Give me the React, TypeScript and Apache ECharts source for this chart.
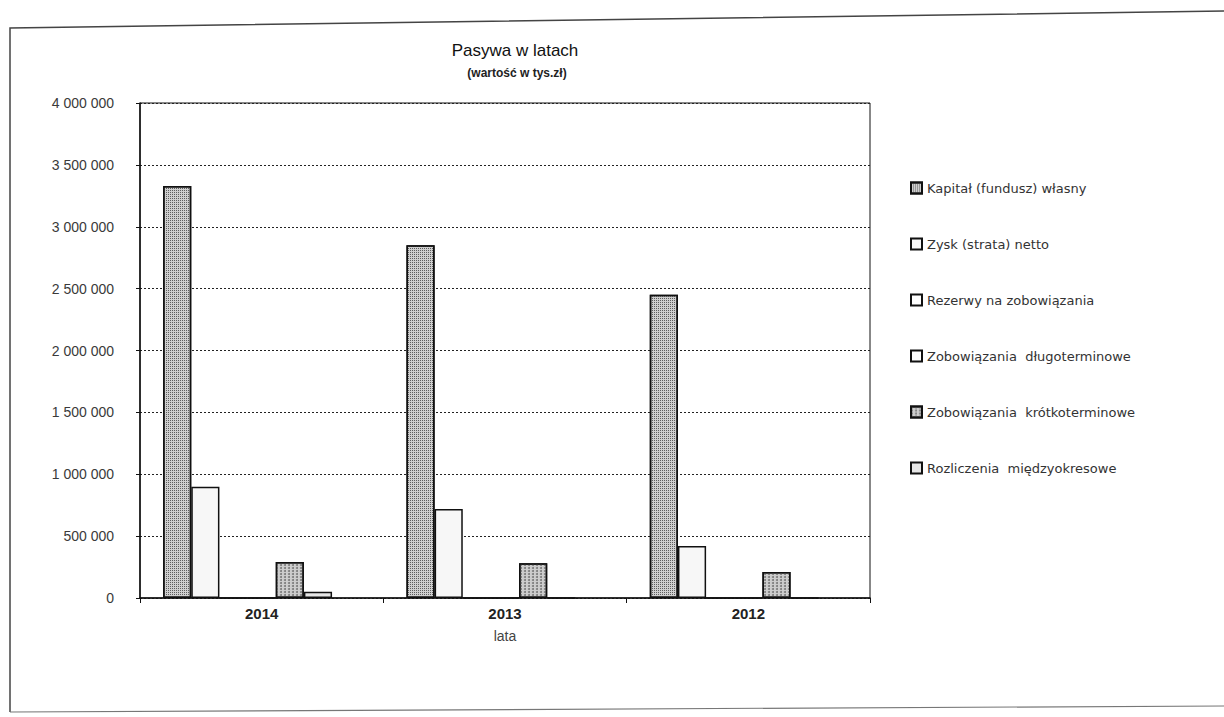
import React, { useEffect, useRef } from "react";
import * as echarts from "echarts";

const categories = ["2014", "2013", "2012"];
const seriesNames = [
  "Kapitał (fundusz) własny",
  "Zysk (strata) netto",
  "Rezerwy na zobowiązania",
  "Zobowiązania  długoterminowe",
  "Zobowiązania  krótkoterminowe",
  "Rozliczenia  międzyokresowe",
];
const kapital = [3330000, 2850000, 2450000];
const zysk = [900000, 720000, 420000];
const rezerwy = [0, 0, 0];
const zobDlugo = [0, 0, 0];
const zobKrotko = [290000, 280000, 210000];
const rozliczenia = [50000, 0, 0];
const seriesValues = [kapital, zysk, rezerwy, zobDlugo, zobKrotko, rozliczenia];
const seriesColors = ["#cfcfcf", "#f7f7f7", "#ffffff", "#ffffff", "#cdcdcd", "#e6e6e6"];
const decals: any[] = [
  { symbol: "rect", symbolSize: 1, color: "#5e5e5e", dashArrayX: [1, 1], dashArrayY: [1, 1] },
  null,
  null,
  null,
  { symbol: "circle", symbolSize: 1, color: "#7a7a7a", dashArrayX: [2, 2], dashArrayY: [2, 1] },
  null,
];

const fmt = (v: number) => String(v).replace(/\B(?=(\d{3})+(?!\d))/g, " ");

export default function App() {
  const ref = useRef<HTMLDivElement>(null);
  useEffect(() => {
    document.body.style.margin = "0";
    const chart = echarts.init(ref.current!, null, { renderer: "svg" });
    const series: any[] = seriesNames.map((name, i) => ({
      name,
      type: "bar",
      data: seriesValues[i],
      barGap: "0%",
      barCategoryGap: "19%",
      itemStyle: {
        color: seriesColors[i],
        borderColor: "#111",
        borderWidth: 1.5,
        ...(decals[i] ? { decal: decals[i] } : {}),
      },
    }));
    // empty slot kept at the end of each group, as in the original layout
    series.push({
      name: "",
      type: "bar",
      data: [null, null, null],
      barGap: "0%",
      barCategoryGap: "19%",
      itemStyle: { color: "transparent" },
    });
    chart.setOption({
      animation: false,
      backgroundColor: "#ffffff",
      title: [
        {
          text: "Pasywa w latach",
          left: 510,
          top: 37,
          textAlign: "center",
          textStyle: { fontFamily: "Liberation Sans", fontSize: 17, fontWeight: "normal", color: "#111" },
        },
        {
          text: "(wartość w tys.zł)",
          left: 512,
          top: 62,
          textAlign: "center",
          textStyle: { fontFamily: "Liberation Sans", fontSize: 12, fontWeight: "bold", color: "#222" },
        },
      ],
      graphic: [
        {
          type: "polyline",
          shape: { points: [[10, 712], [10, 28], [1224, 11]] },
          style: { stroke: "#444", lineWidth: 1.5, fill: "none" },
        },
        {
          type: "line",
          shape: { x1: 10, y1: 712, x2: 1224, y2: 706 },
          style: { stroke: "#777", lineWidth: 1.2 },
        },
      ],
      legend: {
        orient: "vertical",
        left: 905,
        top: 176,
        itemWidth: 11,
        itemHeight: 11,
        itemGap: 42,
        icon: "rect",
        data: seriesNames,
        textStyle: { fontFamily: "DejaVu Sans", fontSize: 13, color: "#333", lineHeight: 14 },
      },
      grid: {
        left: 140,
        right: 354,
        top: 103,
        bottom: 119,
        show: true,
        borderColor: "#111",
        borderWidth: 1,
        containLabel: false,
      },
      xAxis: {
        type: "category",
        data: categories,
        name: "lata",
        nameLocation: "middle",
        nameGap: 31,
        nameTextStyle: { fontFamily: "Liberation Sans", fontSize: 14, color: "#444" },
        axisLine: { lineStyle: { color: "#111", width: 1.5 } },
        axisTick: { show: true, length: 5, lineStyle: { color: "#111" } },
        axisLabel: { fontFamily: "Liberation Sans", fontSize: 15, fontWeight: "bold", color: "#222", margin: 8 },
      },
      yAxis: {
        type: "value",
        min: 0,
        max: 4000000,
        interval: 500000,
        axisLine: { show: true, lineStyle: { color: "#111", width: 1.5 } },
        axisTick: { show: true, length: 4, lineStyle: { color: "#111" } },
        axisLabel: {
          fontFamily: "Liberation Sans",
          fontSize: 14,
          color: "#3a3a3a",
          margin: 26,
          formatter: (v: number) => fmt(v),
        },
        splitLine: { show: true, lineStyle: { color: "#222", width: 1.2, type: [2, 2] } },
      },
      series,
    });
    return () => chart.dispose();
  }, []);
  return <div ref={ref} style={{ width: 1224, height: 717 }} />;
}
